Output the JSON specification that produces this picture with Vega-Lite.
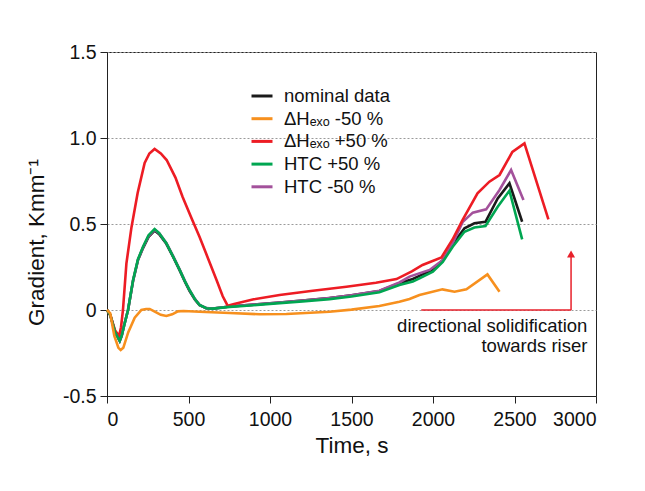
{
  "$schema": "https://vega.github.io/schema/vega-lite/v6.json",
  "width": 489,
  "height": 344,
  "autosize": {"type": "none"},
  "padding": {"left": 107, "top": 52, "right": 49, "bottom": 95},
  "background": "white",
  "config": {
    "font": "Liberation Sans",
    "view": {"stroke": "#222", "strokeWidth": 1},
    "axis": {
      "domainColor": "#222", "tickColor": "#222", "tickSize": 7,
      "labelFont": "Liberation Sans", "labelFontSize": 19.5, "labelColor": "#111",
      "titleFont": "Liberation Sans", "titleFontSize": 22.5, "titleFontWeight": "normal", "titleColor": "#111"
    },
    "legend": {"labelFont": "Liberation Sans", "labelFontSize": 18.5, "labelColor": "#111"}
  },
  "datasets": {
    "series": [
      {"t": 0, "g": 0, "s": "nominal data"},
      {"t": 20, "g": -0.03, "s": "nominal data"},
      {"t": 50, "g": -0.13, "s": "nominal data"},
      {"t": 78, "g": -0.18, "s": "nominal data"},
      {"t": 90, "g": -0.15, "s": "nominal data"},
      {"t": 105, "g": -0.09, "s": "nominal data"},
      {"t": 129, "g": 0, "s": "nominal data"},
      {"t": 160, "g": 0.17, "s": "nominal data"},
      {"t": 190, "g": 0.29, "s": "nominal data"},
      {"t": 221, "g": 0.36, "s": "nominal data"},
      {"t": 255, "g": 0.425, "s": "nominal data"},
      {"t": 292, "g": 0.462, "s": "nominal data"},
      {"t": 320, "g": 0.44, "s": "nominal data"},
      {"t": 364, "g": 0.385, "s": "nominal data"},
      {"t": 405, "g": 0.31, "s": "nominal data"},
      {"t": 446, "g": 0.23, "s": "nominal data"},
      {"t": 480, "g": 0.16, "s": "nominal data"},
      {"t": 507, "g": 0.11, "s": "nominal data"},
      {"t": 540, "g": 0.06, "s": "nominal data"},
      {"t": 568, "g": 0.028, "s": "nominal data"},
      {"t": 609, "g": 0.01, "s": "nominal data"},
      {"t": 650, "g": 0.008, "s": "nominal data"},
      {"t": 752, "g": 0.02, "s": "nominal data"},
      {"t": 900, "g": 0.031, "s": "nominal data"},
      {"t": 1059, "g": 0.044, "s": "nominal data"},
      {"t": 1200, "g": 0.055, "s": "nominal data"},
      {"t": 1365, "g": 0.07, "s": "nominal data"},
      {"t": 1500, "g": 0.085, "s": "nominal data"},
      {"t": 1671, "g": 0.11, "s": "nominal data"},
      {"t": 1794, "g": 0.155, "s": "nominal data"},
      {"t": 1876, "g": 0.18, "s": "nominal data"},
      {"t": 1917, "g": 0.198, "s": "nominal data"},
      {"t": 1999, "g": 0.235, "s": "nominal data"},
      {"t": 2060, "g": 0.29, "s": "nominal data"},
      {"t": 2121, "g": 0.382, "s": "nominal data"},
      {"t": 2193, "g": 0.475, "s": "nominal data"},
      {"t": 2254, "g": 0.504, "s": "nominal data"},
      {"t": 2322, "g": 0.513, "s": "nominal data"},
      {"t": 2397, "g": 0.649, "s": "nominal data"},
      {"t": 2469, "g": 0.737, "s": "nominal data"},
      {"t": 2547, "g": 0.513, "s": "nominal data"},

      {"t": 0, "g": 0, "s": "HTC -50 %"},
      {"t": 20, "g": -0.03, "s": "HTC -50 %"},
      {"t": 50, "g": -0.13, "s": "HTC -50 %"},
      {"t": 78, "g": -0.18, "s": "HTC -50 %"},
      {"t": 90, "g": -0.15, "s": "HTC -50 %"},
      {"t": 105, "g": -0.09, "s": "HTC -50 %"},
      {"t": 129, "g": 0, "s": "HTC -50 %"},
      {"t": 160, "g": 0.172, "s": "HTC -50 %"},
      {"t": 190, "g": 0.292, "s": "HTC -50 %"},
      {"t": 221, "g": 0.364, "s": "HTC -50 %"},
      {"t": 255, "g": 0.43, "s": "HTC -50 %"},
      {"t": 292, "g": 0.467, "s": "HTC -50 %"},
      {"t": 320, "g": 0.446, "s": "HTC -50 %"},
      {"t": 364, "g": 0.39, "s": "HTC -50 %"},
      {"t": 405, "g": 0.315, "s": "HTC -50 %"},
      {"t": 446, "g": 0.235, "s": "HTC -50 %"},
      {"t": 480, "g": 0.165, "s": "HTC -50 %"},
      {"t": 507, "g": 0.115, "s": "HTC -50 %"},
      {"t": 540, "g": 0.063, "s": "HTC -50 %"},
      {"t": 568, "g": 0.03, "s": "HTC -50 %"},
      {"t": 609, "g": 0.011, "s": "HTC -50 %"},
      {"t": 650, "g": 0.009, "s": "HTC -50 %"},
      {"t": 752, "g": 0.02, "s": "HTC -50 %"},
      {"t": 900, "g": 0.031, "s": "HTC -50 %"},
      {"t": 1059, "g": 0.044, "s": "HTC -50 %"},
      {"t": 1200, "g": 0.055, "s": "HTC -50 %"},
      {"t": 1365, "g": 0.07, "s": "HTC -50 %"},
      {"t": 1500, "g": 0.086, "s": "HTC -50 %"},
      {"t": 1671, "g": 0.112, "s": "HTC -50 %"},
      {"t": 1794, "g": 0.16, "s": "HTC -50 %"},
      {"t": 1856, "g": 0.194, "s": "HTC -50 %"},
      {"t": 1979, "g": 0.233, "s": "HTC -50 %"},
      {"t": 2060, "g": 0.29, "s": "HTC -50 %"},
      {"t": 2121, "g": 0.388, "s": "HTC -50 %"},
      {"t": 2183, "g": 0.513, "s": "HTC -50 %"},
      {"t": 2244, "g": 0.566, "s": "HTC -50 %"},
      {"t": 2326, "g": 0.585, "s": "HTC -50 %"},
      {"t": 2408, "g": 0.698, "s": "HTC -50 %"},
      {"t": 2479, "g": 0.814, "s": "HTC -50 %"},
      {"t": 2555, "g": 0.64, "s": "HTC -50 %"},

      {"t": 0, "g": 0, "s": "ΔHₑₓₒ +50 %"},
      {"t": 20, "g": -0.03, "s": "ΔHₑₓₒ +50 %"},
      {"t": 50, "g": -0.12, "s": "ΔHₑₓₒ +50 %"},
      {"t": 74, "g": -0.151, "s": "ΔHₑₓₒ +50 %"},
      {"t": 86, "g": -0.1, "s": "ΔHₑₓₒ +50 %"},
      {"t": 98, "g": 0, "s": "ΔHₑₓₒ +50 %"},
      {"t": 119, "g": 0.27, "s": "ΔHₑₓₒ +50 %"},
      {"t": 150, "g": 0.48, "s": "ΔHₑₓₒ +50 %"},
      {"t": 188, "g": 0.68, "s": "ΔHₑₓₒ +50 %"},
      {"t": 231, "g": 0.855, "s": "ΔHₑₓₒ +50 %"},
      {"t": 260, "g": 0.91, "s": "ΔHₑₓₒ +50 %"},
      {"t": 292, "g": 0.936, "s": "ΔHₑₓₒ +50 %"},
      {"t": 330, "g": 0.91, "s": "ΔHₑₓₒ +50 %"},
      {"t": 366, "g": 0.872, "s": "ΔHₑₓₒ +50 %"},
      {"t": 420, "g": 0.77, "s": "ΔHₑₓₒ +50 %"},
      {"t": 464, "g": 0.657, "s": "ΔHₑₓₒ +50 %"},
      {"t": 520, "g": 0.53, "s": "ΔHₑₓₒ +50 %"},
      {"t": 568, "g": 0.424, "s": "ΔHₑₓₒ +50 %"},
      {"t": 620, "g": 0.3, "s": "ΔHₑₓₒ +50 %"},
      {"t": 672, "g": 0.174, "s": "ΔHₑₓₒ +50 %"},
      {"t": 710, "g": 0.08, "s": "ΔHₑₓₒ +50 %"},
      {"t": 740, "g": 0.025, "s": "ΔHₑₓₒ +50 %"},
      {"t": 780, "g": 0.035, "s": "ΔHₑₓₒ +50 %"},
      {"t": 900, "g": 0.062, "s": "ΔHₑₓₒ +50 %"},
      {"t": 1059, "g": 0.087, "s": "ΔHₑₓₒ +50 %"},
      {"t": 1250, "g": 0.11, "s": "ΔHₑₓₒ +50 %"},
      {"t": 1469, "g": 0.135, "s": "ΔHₑₓₒ +50 %"},
      {"t": 1650, "g": 0.158, "s": "ΔHₑₓₒ +50 %"},
      {"t": 1776, "g": 0.18, "s": "ΔHₑₓₒ +50 %"},
      {"t": 1870, "g": 0.225, "s": "ΔHₑₓₒ +50 %"},
      {"t": 1936, "g": 0.262, "s": "ΔHₑₓₒ +50 %"},
      {"t": 2052, "g": 0.306, "s": "ΔHₑₓₒ +50 %"},
      {"t": 2120, "g": 0.41, "s": "ΔHₑₓₒ +50 %"},
      {"t": 2181, "g": 0.523, "s": "ΔHₑₓₒ +50 %"},
      {"t": 2273, "g": 0.678, "s": "ΔHₑₓₒ +50 %"},
      {"t": 2346, "g": 0.746, "s": "ΔHₑₓₒ +50 %"},
      {"t": 2408, "g": 0.785, "s": "ΔHₑₓₒ +50 %"},
      {"t": 2487, "g": 0.919, "s": "ΔHₑₓₒ +50 %"},
      {"t": 2561, "g": 0.969, "s": "ΔHₑₓₒ +50 %"},
      {"t": 2708, "g": 0.527, "s": "ΔHₑₓₒ +50 %"},

      {"t": 0, "g": 0, "s": "HTC +50 %"},
      {"t": 20, "g": -0.03, "s": "HTC +50 %"},
      {"t": 50, "g": -0.13, "s": "HTC +50 %"},
      {"t": 78, "g": -0.18, "s": "HTC +50 %"},
      {"t": 90, "g": -0.15, "s": "HTC +50 %"},
      {"t": 105, "g": -0.09, "s": "HTC +50 %"},
      {"t": 129, "g": 0, "s": "HTC +50 %"},
      {"t": 160, "g": 0.174, "s": "HTC +50 %"},
      {"t": 190, "g": 0.295, "s": "HTC +50 %"},
      {"t": 221, "g": 0.368, "s": "HTC +50 %"},
      {"t": 255, "g": 0.435, "s": "HTC +50 %"},
      {"t": 292, "g": 0.471, "s": "HTC +50 %"},
      {"t": 320, "g": 0.447, "s": "HTC +50 %"},
      {"t": 364, "g": 0.388, "s": "HTC +50 %"},
      {"t": 405, "g": 0.312, "s": "HTC +50 %"},
      {"t": 446, "g": 0.233, "s": "HTC +50 %"},
      {"t": 480, "g": 0.163, "s": "HTC +50 %"},
      {"t": 507, "g": 0.116, "s": "HTC +50 %"},
      {"t": 540, "g": 0.062, "s": "HTC +50 %"},
      {"t": 568, "g": 0.029, "s": "HTC +50 %"},
      {"t": 609, "g": 0.01, "s": "HTC +50 %"},
      {"t": 650, "g": 0.008, "s": "HTC +50 %"},
      {"t": 752, "g": 0.018, "s": "HTC +50 %"},
      {"t": 900, "g": 0.028, "s": "HTC +50 %"},
      {"t": 1059, "g": 0.04, "s": "HTC +50 %"},
      {"t": 1200, "g": 0.05, "s": "HTC +50 %"},
      {"t": 1365, "g": 0.063, "s": "HTC +50 %"},
      {"t": 1500, "g": 0.078, "s": "HTC +50 %"},
      {"t": 1671, "g": 0.103, "s": "HTC +50 %"},
      {"t": 1794, "g": 0.145, "s": "HTC +50 %"},
      {"t": 1876, "g": 0.165, "s": "HTC +50 %"},
      {"t": 1917, "g": 0.184, "s": "HTC +50 %"},
      {"t": 1999, "g": 0.223, "s": "HTC +50 %"},
      {"t": 2060, "g": 0.28, "s": "HTC +50 %"},
      {"t": 2121, "g": 0.368, "s": "HTC +50 %"},
      {"t": 2193, "g": 0.455, "s": "HTC +50 %"},
      {"t": 2254, "g": 0.48, "s": "HTC +50 %"},
      {"t": 2322, "g": 0.488, "s": "HTC +50 %"},
      {"t": 2397, "g": 0.6, "s": "HTC +50 %"},
      {"t": 2469, "g": 0.694, "s": "HTC +50 %"},
      {"t": 2547, "g": 0.411, "s": "HTC +50 %"},

      {"t": 0, "g": 0, "s": "ΔHₑₓₒ -50 %"},
      {"t": 20, "g": -0.02, "s": "ΔHₑₓₒ -50 %"},
      {"t": 45, "g": -0.15, "s": "ΔHₑₓₒ -50 %"},
      {"t": 70, "g": -0.22, "s": "ΔHₑₓₒ -50 %"},
      {"t": 84, "g": -0.233, "s": "ΔHₑₓₒ -50 %"},
      {"t": 100, "g": -0.22, "s": "ΔHₑₓₒ -50 %"},
      {"t": 130, "g": -0.13, "s": "ΔHₑₓₒ -50 %"},
      {"t": 170, "g": -0.045, "s": "ΔHₑₓₒ -50 %"},
      {"t": 211, "g": 0, "s": "ΔHₑₓₒ -50 %"},
      {"t": 240, "g": 0.006, "s": "ΔHₑₓₒ -50 %"},
      {"t": 262, "g": 0.006, "s": "ΔHₑₓₒ -50 %"},
      {"t": 290, "g": -0.008, "s": "ΔHₑₓₒ -50 %"},
      {"t": 330, "g": -0.028, "s": "ΔHₑₓₒ -50 %"},
      {"t": 364, "g": -0.035, "s": "ΔHₑₓₒ -50 %"},
      {"t": 400, "g": -0.025, "s": "ΔHₑₓₒ -50 %"},
      {"t": 435, "g": -0.008, "s": "ΔHₑₓₒ -50 %"},
      {"t": 470, "g": -0.006, "s": "ΔHₑₓₒ -50 %"},
      {"t": 568, "g": -0.01, "s": "ΔHₑₓₒ -50 %"},
      {"t": 753, "g": -0.017, "s": "ΔHₑₓₒ -50 %"},
      {"t": 936, "g": -0.025, "s": "ΔHₑₓₒ -50 %"},
      {"t": 1100, "g": -0.023, "s": "ΔHₑₓₒ -50 %"},
      {"t": 1365, "g": -0.01, "s": "ΔHₑₓₒ -50 %"},
      {"t": 1500, "g": 0.002, "s": "ΔHₑₓₒ -50 %"},
      {"t": 1671, "g": 0.023, "s": "ΔHₑₓₒ -50 %"},
      {"t": 1794, "g": 0.048, "s": "ΔHₑₓₒ -50 %"},
      {"t": 1856, "g": 0.064, "s": "ΔHₑₓₒ -50 %"},
      {"t": 1917, "g": 0.087, "s": "ΔHₑₓₒ -50 %"},
      {"t": 2058, "g": 0.12, "s": "ΔHₑₓₒ -50 %"},
      {"t": 2132, "g": 0.106, "s": "ΔHₑₓₒ -50 %"},
      {"t": 2205, "g": 0.12, "s": "ΔHₑₓₒ -50 %"},
      {"t": 2334, "g": 0.207, "s": "ΔHₑₓₒ -50 %"},
      {"t": 2408, "g": 0.106, "s": "ΔHₑₓₒ -50 %"}
    ],
    "arrowLines": [
      {"x": 1928, "x2": 2847, "y": 0, "y2": 0},
      {"x": 2847, "x2": 2847, "y": 0, "y2": 0.31}
    ],
    "arrowHead": [{"x": 2847, "y": 0.326}],
    "notes": [
      {"x": 2947, "y": -0.128, "text": "directional solidification"},
      {"x": 2947, "y": -0.242, "text": "towards riser"}
    ]
  },
  "layer": [
    {
      "data": {"name": "series"},
      "mark": {"type": "line", "strokeWidth": 2.6, "interpolate": "linear"},
      "encoding": {
        "x": {
          "field": "t", "type": "quantitative",
          "scale": {"domain": [0, 3000], "nice": false},
          "axis": {"values": [0, 500, 1000, 1500, 2000, 2500, 3000], "format": "d", "grid": false, "title": "Time, s", "labelPadding": 7, "titlePadding": 6}
        },
        "y": {
          "field": "g", "type": "quantitative",
          "scale": {"domain": [-0.5, 1.5], "nice": false},
          "axis": {
            "values": [-0.5, 0, 0.5, 1, 1.5],
            "labelExpr": "datum.value == 0 ? '0' : (datum.value < 0 ? '-0.5' : format(datum.value, '.1f'))",
            "grid": true, "gridColor": "#9a9a9a", "gridDash": [2, 2], "gridWidth": 1,
            "title": "Gradient, Kmm⁻¹", "labelPadding": 4, "titlePadding": 14, "titleY": 190
          }
        },
        "color": {
          "field": "s", "type": "nominal",
          "scale": {
            "domain": ["nominal data", "ΔHₑₓₒ -50 %", "ΔHₑₓₒ +50 %", "HTC +50 %", "HTC -50 %"],
            "range": ["#1a1a1a", "#f7901e", "#ed1c24", "#00a651", "#a3519b"]
          },
          "legend": {
            "title": null, "orient": "none", "legendX": 143, "legendY": 32,
            "symbolType": "stroke", "symbolSize": 441, "symbolStrokeWidth": 3,
            "labelOffset": 10, "rowPadding": 0.7, "padding": 0
          }
        }
      }
    },
    {
      "data": {"name": "arrowLines"},
      "mark": {"type": "rule", "color": "#e8212b", "strokeWidth": 1.5},
      "encoding": {
        "x": {"field": "x", "type": "quantitative"},
        "x2": {"field": "x2"},
        "y": {"field": "y", "type": "quantitative"},
        "y2": {"field": "y2"}
      }
    },
    {
      "data": {"name": "arrowHead"},
      "mark": {"type": "point", "shape": "triangle-up", "filled": true, "size": 64, "color": "#e8212b", "opacity": 1},
      "encoding": {
        "x": {"field": "x", "type": "quantitative"},
        "y": {"field": "y", "type": "quantitative"}
      }
    },
    {
      "data": {"name": "notes"},
      "mark": {"type": "text", "align": "right", "baseline": "alphabetic", "fontSize": 18.5, "color": "#111", "font": "Liberation Sans"},
      "encoding": {
        "x": {"field": "x", "type": "quantitative"},
        "y": {"field": "y", "type": "quantitative"},
        "text": {"field": "text"}
      }
    }
  ]
}
